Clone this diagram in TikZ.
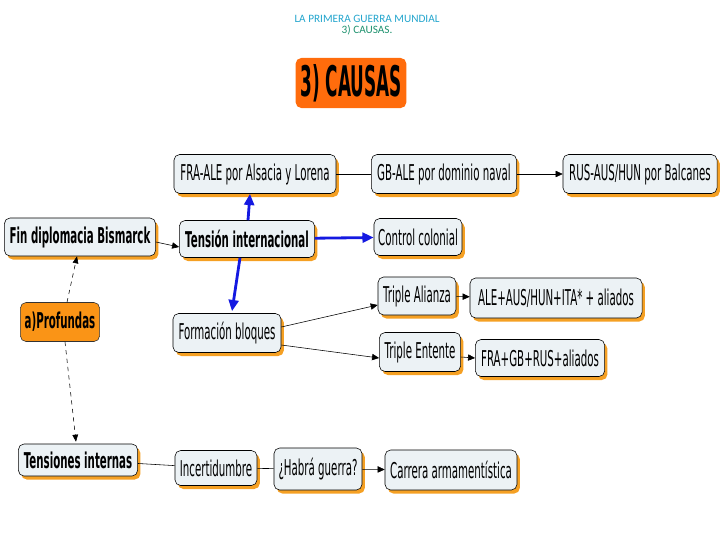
\documentclass[tikz,border=0pt]{standalone}
\usepackage{fontspec}
\setmainfont{DejaVu Sans}[FakeStretch=0.47]
\newfontfamily\causasfont{DejaVu Sans}[FakeStretch=0.4]
\newfontfamily\headfont{Carlito}
\usepackage{tikz}
\usetikzlibrary{arrows.meta, positioning, shadows, calc}
\definecolor{boxfill}{RGB}{236,242,245}
\definecolor{shadoworange}{RGB}{245,160,35}
\definecolor{causasorange}{RGB}{255,108,12}
\definecolor{proforange}{RGB}{250,148,22}
\definecolor{linkblue}{RGB}{20,25,225}
\definecolor{headblue}{RGB}{35,165,205}
\definecolor{headgreen}{RGB}{30,145,110}

\begin{document}
\begin{tikzpicture}[
    x=0.025cm, y=-0.025cm,
    idea/.style={rectangle, draw, rounded corners=4pt, fill=boxfill, inner sep=1pt, align=center, font=\fontsize{15.5}{18}\selectfont, drop shadow={shadow xshift=2pt, shadow yshift=-2.5pt, fill=shadoworange, opacity=1}},
    keybox/.style={idea, font=\fontsize{15.5}{18}\selectfont\bfseries},
    head/.style={inner sep=0pt, font=\headfont\fontsize{8}{9}\selectfont},
    arrow/.style={-{Triangle[length=5pt,width=4.5pt]}, thin},
    plainlink/.style={thin},
    bluearrow/.style={-{Triangle[length=8pt,width=7pt]}, line width=2pt, linkblue},
    dasharrow/.style={-{Triangle[length=5pt,width=4pt]}, dashed, thin},
]
\useasboundingbox (0,0) rectangle (720,540);

% heading
\node[head, text=headblue] (head1) at (367,19) {LA PRIMERA GUERRA MUNDIAL};
\node[head, text=headgreen] (head2) at (367,30) {3) CAUSAS.};
\node[rectangle, rounded corners=4pt, fill=causasorange, minimum width=2.75cm, minimum height=1.25cm, font=\causasfont\bfseries\fontsize{30}{32}\selectfont] (causas) at (351,83) {3) CAUSAS};

% map
\node[idea, minimum width=4.05cm, minimum height=0.975cm] (fra) at (255,174) {FRA-ALE por Alsacia y Lorena};
\node[idea, minimum width=3.63cm, minimum height=0.975cm] (gb) at (444,174) {GB-ALE por dominio naval};
\node[idea, minimum width=3.85cm, minimum height=0.975cm] (rus) at (640,174) {RUS-AUS/HUN por Balcanes};
\node[keybox, minimum width=3.78cm, minimum height=0.95cm] (bism) at (80,237) {Fin diplomacia Bismarck};
\node[keybox, minimum width=3.38cm, minimum height=0.925cm] (tension) at (247,239) {Tensión internacional};
\node[idea, minimum width=2.2cm, minimum height=0.925cm] (colonial) at (418,237) {Control colonial};
\node[rectangle, draw=black!80, rounded corners=4pt, fill=proforange, minimum width=1.98cm, minimum height=0.975cm, inner sep=1pt, font=\fontsize{15.5}{18}\selectfont\bfseries] (prof) at (60,322) {a)Profundas};
\node[idea, minimum width=2.7cm, minimum height=0.975cm] (bloques) at (227,333) {Formación bloques};
\node[idea, minimum width=1.95cm, minimum height=0.95cm] (alianza) at (417,296) {Triple Alianza};
\node[idea, minimum width=4.3cm, minimum height=1cm] (alemania) at (556,298) {ALE+AUS/HUN+ITA* + aliados};
\node[idea, minimum width=2.03cm, minimum height=0.975cm] (entente) at (420,352) {Triple Entente};
\node[idea, minimum width=3.23cm, minimum height=0.925cm] (francia) at (540,358) {FRA+GB+RUS+aliados};
\node[keybox, minimum width=2.98cm, minimum height=0.8cm] (internas) at (78,460) {Tensiones internas};
\node[idea, minimum width=2.05cm, minimum height=0.875cm] (incert) at (216,468) {Incertidumbre};
\node[idea, minimum width=2.2cm, minimum height=1.05cm] (guerra) at (318,469) {¿Habrá guerra?};
\node[idea, minimum width=3.3cm, minimum height=1cm] (carrera) at (451,470) {Carrera armamentística};

\draw[plainlink] (fra) -- (gb);
\draw[arrow] (gb) -- (rus);
\draw[arrow] ($(bism.east)+(0,5)$) -- ($(tension.west)+(0,8)$);
\draw[bluearrow] ($(tension.north)+(1,0)$) -- ($(fra.south)+(-5,0)$);
\draw[bluearrow] (tension) -- (colonial);
\draw[bluearrow] ($(tension.south)+(-7,0)$) -- ($(bloques.north)+(5,-2)$);
\draw[arrow] ($(bloques.east)+(0,-6)$) -- ($(alianza.west)+(0,9)$);
\draw[arrow] ($(bloques.east)+(0,12)$) -- ($(entente.west)+(0,6)$);
\draw[arrow] (alianza) -- (alemania);
\draw[arrow] ($(entente.east)+(0,5)$) -- (francia.west);
\draw[dasharrow] ($(prof.north)+(7,0)$) -- ($(bism.south)+(-3,0)$);
\draw[dasharrow] ($(prof.south)+(5,0)$) -- ($(internas.north)+(-2,-2)$);
\draw[plainlink] (internas) -- (incert);
\draw[plainlink] (incert) -- (guerra);
\draw[arrow] (guerra) -- (carrera);

\end{tikzpicture}
\end{document}
